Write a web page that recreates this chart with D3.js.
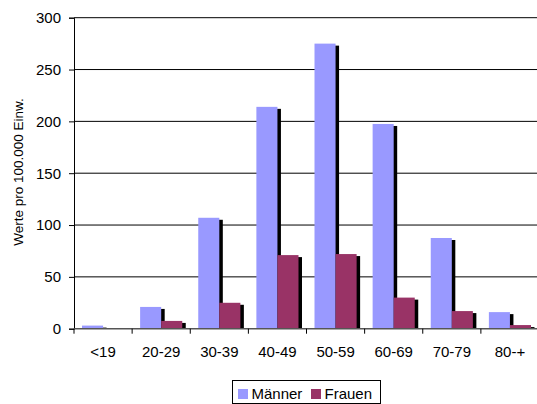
<!DOCTYPE html>
<html>
<head>
<meta charset="utf-8">
<script src="https://cdn.jsdelivr.net/npm/d3@7"></script>
<style>
  html, body { margin: 0; padding: 0; background: #fff; }
  svg { display: block; font-family: "Liberation Sans", Arial, sans-serif; }
</style>
</head>
<body>
<svg id="chart" width="537" height="404"></svg>
<script>
// Age groups and rates per 100,000 inhabitants
const categories = ["<19", "20-29", "30-39", "40-49", "50-59", "60-69", "70-79", "80-+"];
const maenner = [3, 21, 107, 214, 275, 197.5, 87.5, 16];
const frauen = [0, 7.5, 25, 71, 72, 30, 17, 3.5];
const seriesNames = ["Männer", "Frauen"];
const seriesColors = ["#9999FF", "#993366"];
const yTicks = [0, 50, 100, 150, 200, 250, 300];
const yTitle = "Werte pro 100.000 Einw.";

const svg = d3.select("#chart");
const plot = { left: 74, right: 539, top: 17.7, bottom: 328.7 };
const fontSize = 15;

const x = d3.scaleBand().domain(categories).range([plot.left, plot.right]).padding(0);
const xs = d3.scaleBand().domain(seriesNames).range([0, x.bandwidth()])
  .paddingInner(0).paddingOuter(0.38);
const y = d3.scaleLinear().domain([0, 300]).range([plot.bottom, plot.top]);

// horizontal gridlines
svg.append("g").selectAll("line").data(yTicks.filter(d => d > 0)).join("line")
  .attr("x1", plot.left).attr("x2", plot.right)
  .attr("y1", d => y(d)).attr("y2", d => y(d))
  .attr("stroke", "#000").attr("stroke-width", 1);

// bars with a drop shadow
const rows = categories.map((c, i) => ({ cat: c, vals: [maenner[i], frauen[i]] }));
const sdx = 3.5, sdy = 2;
rows.forEach(r => {
  r.vals.forEach((v, j) => {
    if (v <= 0) return;
    const bx = x(r.cat) + xs(seriesNames[j]);
    const by = y(v);
    const h = y(0) - by;
    svg.append("rect")
      .attr("x", bx + sdx).attr("y", by + sdy)
      .attr("width", xs.bandwidth()).attr("height", Math.max(0, h - sdy))
      .attr("fill", "#000");
    svg.append("rect")
      .attr("x", bx).attr("y", by)
      .attr("width", xs.bandwidth()).attr("height", h)
      .attr("fill", seriesColors[j]);
  });
});

// y axis
const yAxis = d3.axisLeft(y).tickValues(yTicks).tickSize(5).tickPadding(8);
const gy = svg.append("g").attr("transform", `translate(${plot.left},0)`).call(yAxis);
gy.select(".domain").attr("stroke", "#000");
gy.selectAll(".tick line").attr("stroke", "#000");
gy.selectAll("text").attr("font-size", fontSize).attr("fill", "#000")
  .attr("font-family", "Liberation Sans, Arial, sans-serif");

// x axis with ticks on category boundaries
svg.append("line")
  .attr("x1", plot.left).attr("x2", plot.right)
  .attr("y1", y(0)).attr("y2", y(0))
  .attr("stroke", "#555").attr("stroke-width", 1.5);
const bounds = categories.map(c => x(c)).concat([plot.right]);
svg.append("g").selectAll("line").data(bounds).join("line")
  .attr("x1", d => d).attr("x2", d => d)
  .attr("y1", y(0)).attr("y2", y(0) + 5)
  .attr("stroke", "#000");
svg.append("g").selectAll("text").data(categories).join("text")
  .attr("x", d => x(d) + x.bandwidth() / 2)
  .attr("y", 356.5)
  .attr("text-anchor", "middle")
  .attr("font-size", fontSize)
  .text(d => d);

// y axis title
svg.append("text")
  .attr("transform", "translate(23,172) rotate(-90)")
  .attr("text-anchor", "middle")
  .attr("font-size", 13.5)
  .text(yTitle);

// legend
const lg = svg.append("g");
lg.append("rect").attr("x", 232.5).attr("y", 380.5).attr("width", 148).attr("height", 23)
  .attr("fill", "#fff").attr("stroke", "#000");
const legendX = [238, 311];
seriesNames.forEach((n, i) => {
  lg.append("rect").attr("x", legendX[i]).attr("y", 389).attr("width", 10).attr("height", 10)
    .attr("fill", seriesColors[i]);
  lg.append("text").attr("x", legendX[i] + 13.5).attr("y", 398.5)
    .attr("font-size", fontSize).text(n);
});
</script>
</body>
</html>
